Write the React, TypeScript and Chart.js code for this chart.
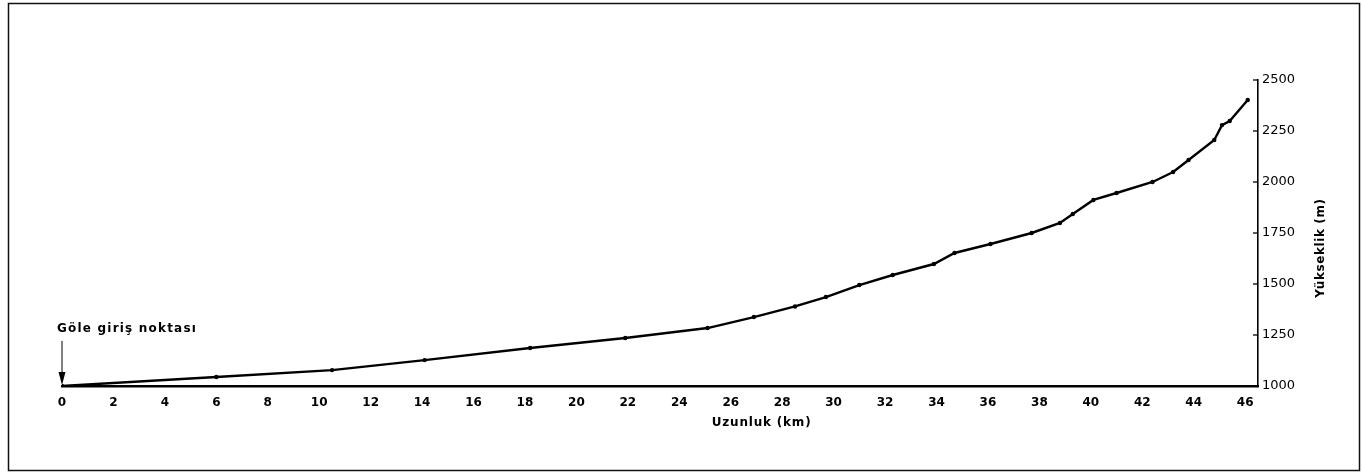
import React, { useEffect, useRef } from 'react';
import { Chart, registerables } from 'chart.js';

Chart.register(...registerables);

// Distance along profile (km) and elevation (m)
const distanceKm = [0, 6.0, 10.5, 14.1, 18.2, 21.9, 25.1, 26.9, 28.5, 29.7, 31.0, 32.3, 33.9, 34.7, 36.1, 37.7, 38.8, 39.3, 40.1, 41.0, 42.4, 43.2, 43.8, 44.8, 45.1, 45.4, 46.1];
const elevationM = [1000, 1044, 1078, 1127, 1186, 1235, 1284, 1338, 1390, 1436, 1495, 1544, 1598, 1652, 1696, 1750, 1799, 1843, 1912, 1946, 2000, 2049, 2108, 2206, 2279, 2299, 2402];

const xTickValues = [0, 2, 4, 6, 8, 10, 12, 14, 16, 18, 20, 22, 24, 26, 28, 30, 32, 34, 36, 38, 40, 42, 44, 46];
const yTickValues = [1000, 1250, 1500, 1750, 2000, 2250, 2500];

const xTitle = 'Uzunluk (km)';
const yTitle = 'Yükseklik (m)';
const entryLabel = 'Göle giriş noktası';

const decorPlugin = {
  id: 'decor',
  afterDraw(chart: any) {
    const { ctx, scales } = chart;
    const xs = scales.x;
    const ys = scales.y;
    ctx.save();
    // outer frame
    ctx.strokeStyle = '#111';
    ctx.lineWidth = 1.5;
    ctx.strokeRect(8.5, 3.5, 1351, 467);

    // inward tick marks on the right axis
    ctx.lineWidth = 1.3;
    ctx.strokeStyle = '#000';
    yTickValues.forEach((v) => {
      const py = ys.getPixelForValue(v);
      ctx.beginPath();
      ctx.moveTo(xs.right - 5, py);
      ctx.lineTo(xs.right, py);
      ctx.stroke();
    });

    // y title (reads bottom to top)
    ctx.save();
    ctx.fillStyle = '#000';
    ctx.font = 'bold 12px "DejaVu Sans"';
    (ctx as any).letterSpacing = '0.6px';
    ctx.translate(1321, (ys.top + ys.bottom) / 2 + 15);
    ctx.rotate(-Math.PI / 2);
    ctx.textAlign = 'center';
    ctx.textBaseline = 'middle';
    ctx.fillText(yTitle, 0, 0);
    ctx.restore();

    // x title
    ctx.save();
    ctx.fillStyle = '#000';
    ctx.font = 'bold 12px "DejaVu Sans"';
    (ctx as any).letterSpacing = '0.8px';
    ctx.textAlign = 'center';
    ctx.textBaseline = 'middle';
    ctx.fillText(xTitle, xs.getPixelForValue(27.2), 423);
    ctx.restore();

    // entry point annotation
    const px = xs.getPixelForValue(0);
    const base = ys.getPixelForValue(1000);
    ctx.save();
    ctx.fillStyle = '#000';
    ctx.font = 'bold 12px "DejaVu Sans"';
    (ctx as any).letterSpacing = '1.2px';
    ctx.textAlign = 'left';
    ctx.textBaseline = 'alphabetic';
    ctx.fillText(entryLabel, px - 5, 332);
    ctx.strokeStyle = '#000';
    ctx.lineWidth = 1;
    ctx.beginPath();
    ctx.moveTo(px, 341);
    ctx.lineTo(px, base - 10);
    ctx.stroke();
    ctx.beginPath();
    ctx.moveTo(px - 3.5, base - 14);
    ctx.lineTo(px + 3.5, base - 14);
    ctx.lineTo(px, base - 1);
    ctx.closePath();
    ctx.fill();
    ctx.restore();

    ctx.restore();
  },
};

export default function App() {
  const canvasRef = useRef<HTMLCanvasElement | null>(null);

  useEffect(() => {
    document.body.style.margin = '0';
    const canvas = canvasRef.current;
    if (!canvas) return;
    const points = distanceKm.map((d, i) => ({ x: d, y: elevationM[i] }));
    const chart = new Chart(canvas, {
      type: 'line',
      data: {
        datasets: [
          {
            data: points,
            borderColor: '#000',
            backgroundColor: '#000',
            borderWidth: 2.4,
            pointRadius: 2.2,
            pointBorderWidth: 0,
            tension: 0,
            fill: false,
          },
        ],
      },
      options: {
        animation: false,
        responsive: false,
        devicePixelRatio: 1,
        layout: { padding: { left: 62, top: 80, right: 0, bottom: 0 } },
        plugins: {
          legend: { display: false },
          tooltip: { enabled: false },
          title: { display: false },
        },
        scales: {
          x: {
            type: 'linear',
            position: 'bottom',
            min: 0,
            max: 46.5,
            afterFit: (scale: any) => {
              scale.height = 88;
            },
            afterBuildTicks: (scale: any) => {
              scale.ticks = xTickValues.map((v) => ({ value: v }));
            },
            ticks: {
              padding: 10,
              color: '#000',
              font: { family: '"DejaVu Sans"', size: 12, weight: 'bold' },
              maxRotation: 0,
              autoSkip: false,
              callback: (v: any) => String(v),
            },
            grid: { display: true, drawOnChartArea: false, drawTicks: false },
            border: { display: true, color: '#000', width: 2.6 },
          },
          y: {
            type: 'linear',
            position: 'right',
            min: 1000,
            max: 2500,
            afterFit: (scale: any) => {
              scale.width = 104;
            },
            afterBuildTicks: (scale: any) => {
              scale.ticks = yTickValues.map((v) => ({ value: v }));
            },
            ticks: {
              padding: 4,
              color: '#000',
              font: { family: '"DejaVu Sans"', size: 13 },
              autoSkip: false,
              callback: (v: any) => String(v),
            },
            grid: { display: true, drawOnChartArea: false, drawTicks: false },
            border: { display: true, color: '#000', width: 1.6 },
          },
        },
      },
      plugins: [decorPlugin],
    });
    return () => chart.destroy();
  }, []);

  return (
    <div style={{ width: 1362, height: 474, background: '#fff' }}>
      <canvas ref={canvasRef} width={1362} height={474} />
    </div>
  );
}
